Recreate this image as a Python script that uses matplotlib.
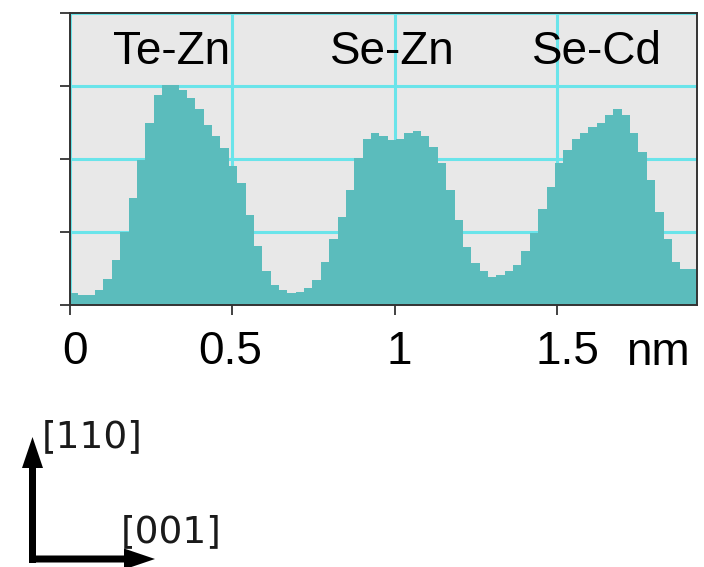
import numpy as np
import matplotlib
matplotlib.use("Agg")
import matplotlib.pyplot as plt
from matplotlib.patches import FancyArrow
from matplotlib.transforms import ScaledTranslation

# ---- data (intensity profile, arbitrary units) ----
profile = [0.17, 0.14, 0.14, 0.20, 0.35, 0.62, 1.00, 1.47, 1.99, 2.49,
           2.88, 3.01, 3.01, 2.95, 2.83, 2.69, 2.47, 2.31, 2.15, 1.91,
           1.67, 1.23, 0.81, 0.46, 0.27, 0.20, 0.17, 0.18, 0.23, 0.34,
           0.59, 0.90, 1.21, 1.58, 2.01, 2.28, 2.35, 2.31, 2.26, 2.27,
           2.35, 2.38, 2.31, 2.17, 1.94, 1.58, 1.16, 0.80, 0.57, 0.47,
           0.39, 0.41, 0.46, 0.55, 0.74, 0.98, 1.32, 1.62, 1.94, 2.12,
           2.28, 2.35, 2.44, 2.49, 2.60, 2.68, 2.60, 2.35, 2.10, 1.71,
           1.28, 0.91, 0.59, 0.49, 0.49]
x_max = 1.93                      # nm, profile length
tick_values = [0, 0.5, 1, 1.5]
tick_labels = ["0", "0.5", "1", "1.5"]
unit_label = "nm"
peak_labels = ["Te-Zn", "Se-Zn", "Se-Cd"]
peak_positions = [0.314, 0.992, 1.623]
dir_labels = ["[110]", "[001]"]

fill_color = "#5bbcbc"
bg_color = "#e8e8e8"
grid_color = "#6ae4ea"

n = len(profile)
edges = np.linspace(0, x_max, n + 1)

W, H = 704, 567
fig = plt.figure(figsize=(W / 100, H / 100), dpi=100)
ax = fig.add_axes([70 / W, (H - 305) / H, 627 / W, 292 / H])
ax.set_facecolor(bg_color)
ax.stairs(profile, edges, fill=True, color=fill_color, zorder=2)

ax.set_xlim(0, x_max)
ax.set_ylim(0, 4)
ax.set_yticks([0, 1, 2, 3, 4])
ax.set_yticklabels([])
ax.set_xticks(tick_values)
ax.set_xticklabels(tick_labels, fontsize=33, family="Liberation Sans")
ax.tick_params(axis="both", direction="out", length=7, width=1.3, color="#333333")
ax.tick_params(axis="x", pad=11)
# small horizontal shifts of the tick labels (pixels) as in the reference
label_shifts = [5, -2, 4, 10]
for lab, dx in zip(ax.get_xticklabels(), label_shifts):
    lab.set_transform(lab.get_transform() + ScaledTranslation(dx / 100, 0, fig.dpi_scale_trans))
ax.grid(True, color=grid_color, linewidth=2.2, zorder=1)
ax.set_axisbelow(True)
for s in ax.spines.values():
    s.set_color("#333333")
    s.set_linewidth(1.4)
    s.set_zorder(3)

for lab, xp in zip(peak_labels, peak_positions):
    ax.text(xp, 3.30, lab, ha="center", va="baseline", fontsize=33,
            family="Liberation Sans", color="black", zorder=4)

ax.text(1.81, -0.82, unit_label, ha="center", va="baseline", fontsize=33,
        family="Liberation Sans", color="black", clip_on=False)

# ---- direction arrows (overlay in pixel coordinates) ----
ov = fig.add_axes([0, 0, 1, 1])
ov.set_xlim(0, W)
ov.set_ylim(H, 0)
ov.axis("off")
ov.add_patch(FancyArrow(32.5, 563, 0, -126, width=7, head_width=21,
                        head_length=31, length_includes_head=True,
                        color="black", lw=0))
ov.add_patch(FancyArrow(29, 559, 126, 0, width=7, head_width=21,
                        head_length=31, length_includes_head=True,
                        color="black", lw=0))
ov.text(42, 447, dir_labels[0], ha="left", va="baseline", fontsize=27,
        family="DejaVu Sans", color="#1a1a1a")
ov.text(121, 542, dir_labels[1], ha="left", va="baseline", fontsize=27,
        family="DejaVu Sans", color="#1a1a1a")

fig.savefig("out.png", dpi=100, facecolor="white")
